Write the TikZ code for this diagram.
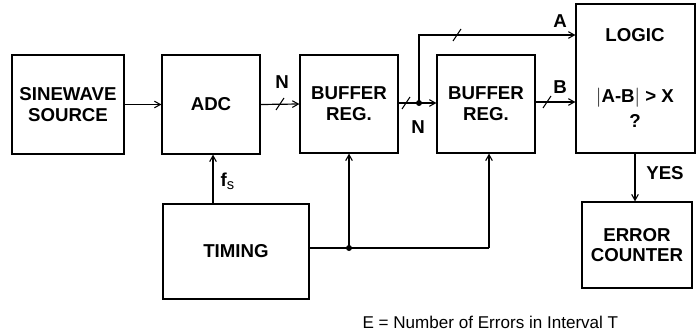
\documentclass[tikz,border=0pt]{standalone}
\usepackage{fontspec}
\setmainfont{Liberation Sans}
\usetikzlibrary{arrows.meta,calc}
\begin{document}
\begin{tikzpicture}[x=0.75pt,y=-0.75pt,
  line width=0.9pt,
  box/.style={draw,rectangle,inner sep=0pt,align=center,font=\bfseries\fontsize{14}{15.5}\selectfont},
  lbl/.style={font=\bfseries\fontsize{14}{15.5}\selectfont,inner sep=0pt},
  arr/.style={-{Straight Barb[length=4.5pt,width=5pt,line width=0.8pt]}},
  slash/.style={line width=0.8pt},
  dot/.style={circle,fill,inner sep=0pt,minimum size=4.5pt}]
\useasboundingbox (0,0) rectangle (700,335);
% boxes
\node[box,minimum width=84pt,minimum height=74.25pt] (src) at (68,104.5) {SINEWAVE\\SOURCE};
\node[box,minimum width=73.5pt,minimum height=74.25pt] (adc) at (211,104.5) {ADC};
\node[box,minimum width=73.5pt,minimum height=73.5pt] (buf1) at (349,104) {BUFFER\\REG.};
\node[box,minimum width=73.5pt,minimum height=73.5pt] (buf2) at (486,104) {BUFFER\\REG.};
\node[box,minimum width=89.25pt,minimum height=111.75pt] (logic) at (635.5,78.5) {};
\node[lbl] (logict) at (635,35) {LOGIC};
\node[lbl] (cond) at (635,98) {$\bigl|$A-B$\bigr|$ > X};
\node[lbl] (q) at (635,121) {?};
\node[box,minimum width=109.5pt,minimum height=71.25pt] (timing) at (236,251.5) {TIMING};
\node[box,minimum width=82.5pt,minimum height=64.5pt] (err) at (637,245) {ERROR\\COUNTER};
% coordinates
\coordinate (j1) at (419,103);
\coordinate (fx) at (213,0);
\coordinate (t2) at (349,248);
\coordinate (t3) at (489,248);
% connectors
\draw[arr] (src.east) -- (adc.west);
\draw[arr] (adc.east) -- (buf1.west);
\draw[slash] (276,110) -- (284,98);
\node[lbl] (n1) at (282,82) {N};
\draw[arr] (buf1.east |- j1) -- (buf2.west |- j1);
\draw[slash] (402,109) -- (410,97);
\node[dot] (jd) at (j1) {};
\node[lbl] (n2) at (418,127) {N};
\draw[arr] (j1) -- (419,35) -- (logic.west |- 0,35);
\draw[slash] (453,41) -- (461,29);
\node[lbl] (la) at (560,21) {A};
\draw[arr] (buf2.east |- 0,102) -- (logic.west |- 0,102);
\draw[slash] (543,108) -- (551,96);
\node[lbl] (lb) at (560,87) {B};
\draw[arr] (timing.north -| fx) -- (adc.south -| fx);
\node[lbl,anchor=west] (fs) at (220,181) {f\textsubscript{\fontsize{11}{12}\normalfont s}};
\draw (timing.east |- t2) -- (t2) -- (t3);
\draw[arr] (t3) -- (buf2.south -| t3);
\draw[arr] (t2) -- (buf1.south -| t2);
\node[dot] (jd2) at (t2) {};
\draw[arr] (logic.south -| 635,0) -- (err.north -| 635,0);
\node[lbl] (yes) at (665,173) {YES};
\node[font=\fontsize{12.8}{14}\selectfont,inner sep=0pt,anchor=west] (cap) at (362,322) {E = Number of Errors in Interval T};
\end{tikzpicture}
\end{document}
